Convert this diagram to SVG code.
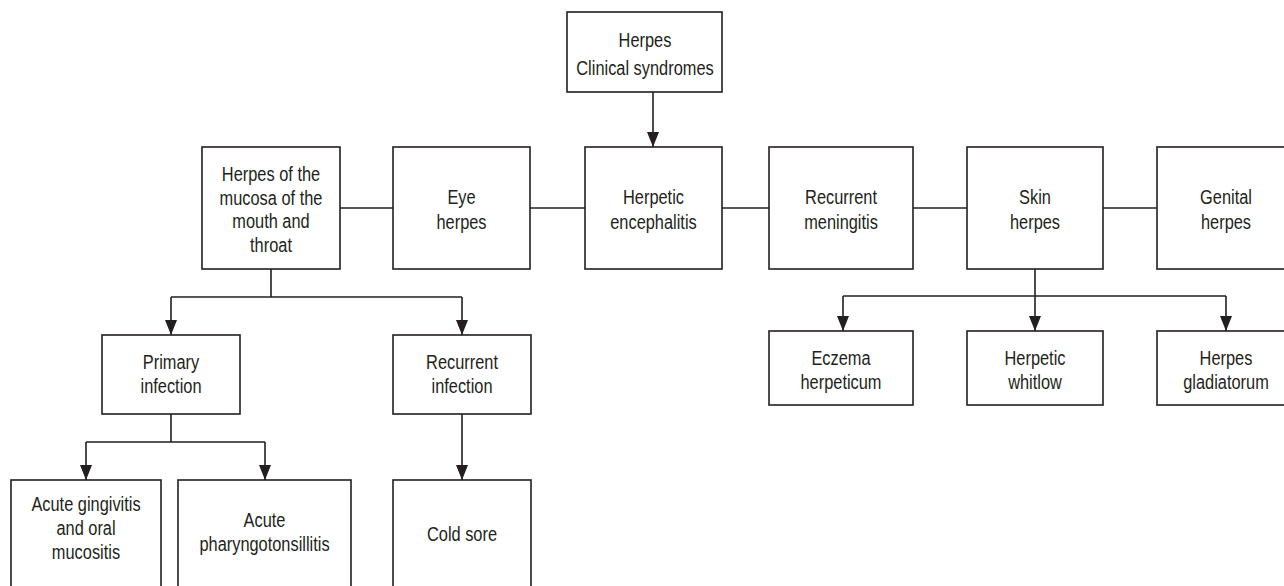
<svg xmlns="http://www.w3.org/2000/svg" width="1284" height="586" viewBox="0 0 1284 586">
<style>
rect.n{fill:#fff;stroke:#231f20;stroke-width:1.6}
text{font-family:"Liberation Sans",Arial,sans-serif;font-size:21px;fill:#231f20;text-anchor:middle}
.c{fill:none;stroke:#231f20;stroke-width:1.6}
</style>
<defs>
<marker id="ah" markerUnits="userSpaceOnUse" markerWidth="12" markerHeight="15" refX="6" refY="15" orient="0" viewBox="0 0 12 15">
<path d="M0,0 L12,0 L6,15 Z" fill="#231f20"/>
</marker>
</defs>
<rect width="1284" height="586" fill="#fff"/>
<g id="connectors">
<path class="c" d="M653,92 V147" marker-end="url(#ah)"/>
<path class="c" d="M340,208 H393 M530,208 H585 M722,208 H769 M913,208 H967 M1103,208 H1157"/>
<path class="c" d="M271,269 V297 M171,297 H462"/>
<path class="c" d="M171,297 V335" marker-end="url(#ah)"/>
<path class="c" d="M462,297 V335" marker-end="url(#ah)"/>
<path class="c" d="M171,414 V442 M86,442 H265"/>
<path class="c" d="M86,442 V480" marker-end="url(#ah)"/>
<path class="c" d="M265,442 V480" marker-end="url(#ah)"/>
<path class="c" d="M462,414 V480" marker-end="url(#ah)"/>
<path class="c" d="M843,296 H1226"/>
<path class="c" d="M1035,269 V331" marker-end="url(#ah)"/>
<path class="c" d="M843,296 V331" marker-end="url(#ah)"/>
<path class="c" d="M1226,296 V331" marker-end="url(#ah)"/>
</g>
<g id="root"><rect class="n" x="567" y="12" width="155" height="80"/><text transform="translate(645,47) scale(0.78,1)">Herpes</text><text transform="translate(645,75) scale(0.78,1)">Clinical syndromes</text></g>
<g id="mouth"><rect class="n" x="202" y="147" width="138" height="122"/><text transform="translate(271,181) scale(0.78,1)">Herpes of the</text><text transform="translate(271,205) scale(0.78,1)">mucosa of the</text><text transform="translate(271,228) scale(0.78,1)">mouth and</text><text transform="translate(271,252) scale(0.78,1)">throat</text></g>
<g id="eye"><rect class="n" x="393" y="147" width="137" height="122"/><text transform="translate(461.5,204) scale(0.78,1)">Eye</text><text transform="translate(461.5,229) scale(0.78,1)">herpes</text></g>
<g id="encephalitis"><rect class="n" x="585" y="147" width="137" height="122"/><text transform="translate(653.5,204) scale(0.78,1)">Herpetic</text><text transform="translate(653.5,229) scale(0.78,1)">encephalitis</text></g>
<g id="meningitis"><rect class="n" x="769" y="147" width="144" height="122"/><text transform="translate(841,204) scale(0.78,1)">Recurrent</text><text transform="translate(841,229) scale(0.78,1)">meningitis</text></g>
<g id="skin"><rect class="n" x="967" y="147" width="136" height="122"/><text transform="translate(1035,204) scale(0.78,1)">Skin</text><text transform="translate(1035,229) scale(0.78,1)">herpes</text></g>
<g id="genital"><rect class="n" x="1157" y="147" width="138" height="122"/><text transform="translate(1226,204) scale(0.78,1)">Genital</text><text transform="translate(1226,229) scale(0.78,1)">herpes</text></g>
<g id="primary"><rect class="n" x="102" y="335" width="138" height="79"/><text transform="translate(171,369) scale(0.78,1)">Primary</text><text transform="translate(171,393) scale(0.78,1)">infection</text></g>
<g id="recurrent-infection"><rect class="n" x="393" y="335" width="138" height="79"/><text transform="translate(462,369) scale(0.78,1)">Recurrent</text><text transform="translate(462,393) scale(0.78,1)">infection</text></g>
<g id="gingivitis"><rect class="n" x="11" y="480" width="150" height="110"/><text transform="translate(86,511) scale(0.78,1)">Acute gingivitis</text><text transform="translate(86,535) scale(0.78,1)">and oral</text><text transform="translate(86,559) scale(0.78,1)">mucositis</text></g>
<g id="pharyngo"><rect class="n" x="178" y="480" width="173" height="110"/><text transform="translate(264.5,527) scale(0.78,1)">Acute</text><text transform="translate(264.5,551) scale(0.78,1)">pharyngotonsillitis</text></g>
<g id="coldsore"><rect class="n" x="393" y="480" width="138" height="110"/><text transform="translate(462,541) scale(0.78,1)">Cold sore</text></g>
<g id="eczema"><rect class="n" x="769" y="331" width="144" height="74"/><text transform="translate(841,365) scale(0.78,1)">Eczema</text><text transform="translate(841,389) scale(0.78,1)">herpeticum</text></g>
<g id="whitlow"><rect class="n" x="967" y="331" width="136" height="74"/><text transform="translate(1035,365) scale(0.78,1)">Herpetic</text><text transform="translate(1035,389) scale(0.78,1)">whitlow</text></g>
<g id="gladiatorum"><rect class="n" x="1157" y="331" width="138" height="74"/><text transform="translate(1226,365) scale(0.78,1)">Herpes</text><text transform="translate(1226,389) scale(0.78,1)">gladiatorum</text></g>
</svg>
